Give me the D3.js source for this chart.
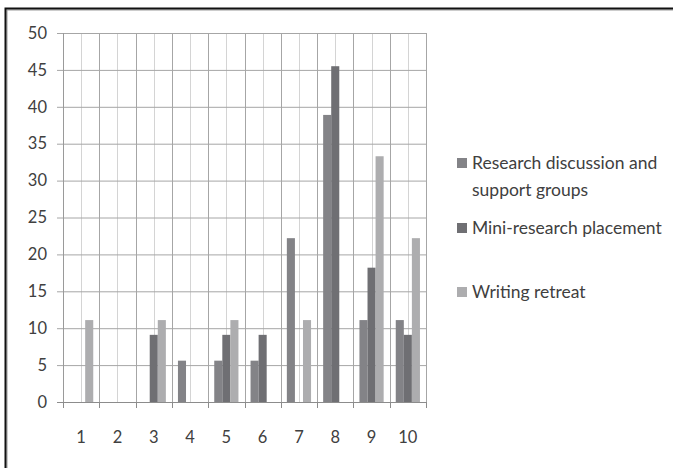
<!DOCTYPE html>
<html>
<head>
<meta charset="utf-8">
<script src="https://cdn.jsdelivr.net/npm/d3@7"></script>
<style>
  html, body { margin: 0; padding: 0; background: #fff; }
  svg { display: block; }
  text { font-family: Lato, "Open Sans", sans-serif; fill: #404040; }
</style>
</head>
<body>
<svg id="chart" width="673" height="468"></svg>
<script>
// Categories along the x axis
const categories = ["1", "2", "3", "4", "5", "6", "7", "8", "9", "10"];

// Series names (legend entries, wrapped onto lines)
const seriesNames = ["Research discussion and support groups", "Mini-research placement", "Writing retreat"];
const legendLines = [["Research discussion and", "support groups"], ["Mini-research placement"], ["Writing retreat"]];

// Series values (percent)
const research = [0, 0, 0, 5.6, 5.6, 5.6, 22.2, 38.9, 11.1, 11.1];
const mini     = [0, 0, 9.1, 0, 9.1, 9.1, 0, 45.5, 18.2, 9.1];
const writing  = [11.1, 0, 11.1, 0, 11.1, 0, 11.1, 0, 33.3, 22.2];

// Y axis ticks
const yTicks = [0, 5, 10, 15, 20, 25, 30, 35, 40, 45, 50];

const seriesValues = [research, mini, writing];
const colors = ["#838387", "#6f6f73", "#adadaf"];

const svg = d3.select("#chart");
const W = 673, H = 468;
const plot = { left: 63, right: 426, top: 33, bottom: 402 };

svg.append("rect").attr("width", W).attr("height", H).attr("fill", "#fff");

// Outer frame (only its top and left edges fall inside the page)
svg.append("rect")
  .attr("x", 7).attr("y", 10).attr("width", 800).attr("height", 600)
  .attr("fill", "none").attr("stroke", "#9a9a9a").attr("stroke-width", 1);
svg.append("rect")
  .attr("x", 5.5).attr("y", 8.5).attr("width", 800).attr("height", 600)
  .attr("fill", "none").attr("stroke", "#111").attr("stroke-width", 2);

const x0 = d3.scaleBand().domain(categories).range([plot.left, plot.right]).paddingInner(0).paddingOuter(0);
const x1 = d3.scaleBand().domain(d3.range(seriesNames.length)).range([0, x0.bandwidth()])
  .paddingInner(0).paddingOuter(0.75);
const y = d3.scaleLinear().domain([0, 50]).range([plot.bottom, plot.top]);

// Minor vertical gridlines at category centres
svg.append("g").selectAll("line").data(categories).join("line")
  .attr("x1", d => Math.round(x0(d) + x0.bandwidth() / 2) + 0.5)
  .attr("x2", d => Math.round(x0(d) + x0.bandwidth() / 2) + 0.5)
  .attr("y1", plot.top).attr("y2", plot.bottom)
  .attr("stroke", "#d4d4d4").attr("stroke-width", 1);

// Major vertical gridlines at category boundaries
const bounds = categories.map(d => x0(d)).concat([plot.right]);
svg.append("g").selectAll("line").data(bounds.slice(1)).join("line")
  .attr("x1", d => Math.round(d) + 0.5).attr("x2", d => Math.round(d) + 0.5)
  .attr("y1", plot.top).attr("y2", plot.bottom)
  .attr("stroke", "#a6a6a6").attr("stroke-width", 1);

// Y axis with gridlines
const yAxis = d3.axisLeft(y).tickValues(yTicks).tickSize(-(plot.right - plot.left)).tickSizeOuter(0).tickPadding(16);
const gy = svg.append("g").attr("transform", `translate(${plot.left},0)`).call(yAxis);
gy.select(".domain").remove();
gy.selectAll(".tick line")
  .attr("x1", -6)
  .attr("stroke", "#a6a6a6");
gy.selectAll(".tick text")
  .attr("font-size", 16.5).attr("fill", "#404040")
  .style("font-family", "Lato, 'Open Sans', sans-serif");

// Left axis line
svg.append("line")
  .attr("x1", plot.left + 0.5).attr("x2", plot.left + 0.5)
  .attr("y1", plot.top).attr("y2", plot.bottom)
  .attr("stroke", "#9a9a9a");

// Bars
const groups = svg.append("g").selectAll("g").data(categories).join("g")
  .attr("transform", d => `translate(${x0(d)},0)`);
groups.selectAll("rect")
  .data((d, i) => seriesValues.map((vals, s) => ({ s, v: vals[i] })))
  .join("rect")
  .filter(d => d.v > 0)
  .attr("x", d => x1(d.s))
  .attr("width", x1.bandwidth())
  .attr("y", d => y(d.v))
  .attr("height", d => y(0) - y(d.v))
  .attr("fill", d => colors[d.s]);

// X axis baseline with ticks at category boundaries
svg.append("line")
  .attr("x1", plot.left - 6).attr("x2", plot.right + 1)
  .attr("y1", plot.bottom + 0.5).attr("y2", plot.bottom + 0.5)
  .attr("stroke", "#8c8c8c");
svg.append("g").selectAll("line").data(bounds).join("line")
  .attr("x1", d => Math.round(d) + 0.5).attr("x2", d => Math.round(d) + 0.5)
  .attr("y1", plot.bottom).attr("y2", plot.bottom + 6)
  .attr("stroke", "#8c8c8c");

// Category labels
svg.append("g").selectAll("text").data(categories).join("text")
  .attr("x", d => x0(d) + x0.bandwidth() / 2)
  .attr("y", 437)
  .attr("dy", "0.35em")
  .attr("text-anchor", "middle")
  .attr("font-size", 16.5)
  .text(d => d);

// Legend
const legendRows = [163, 228, 292];
const legend = svg.append("g");
legendLines.forEach((lines, i) => {
  const cy = legendRows[i];
  legend.append("rect")
    .attr("x", 457).attr("y", cy - 5).attr("width", 10).attr("height", 10)
    .attr("fill", colors[i]);
  const t = legend.append("text")
    .attr("x", 472).attr("y", cy)
    .attr("font-size", 17.5);
  lines.forEach((ln, k) => {
    t.append("tspan").attr("x", 472).attr("dy", k === 0 ? "0.35em" : 27).text(ln);
  });
});
</script>
</body>
</html>
